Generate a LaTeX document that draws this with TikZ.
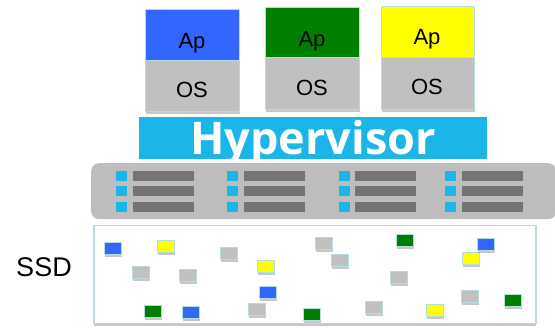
\documentclass[tikz,border=0pt]{standalone}
\usepackage{fontspec}
\setmainfont{Liberation Sans}
\newfontfamily\hvfont{Open Sans}
\usetikzlibrary{shadows}
\definecolor{apblue}{HTML}{3366FF}
\definecolor{apgreen}{HTML}{007F00}
\definecolor{apyellow}{HTML}{FFFF00}
\definecolor{osgray}{HTML}{C0C0C0}
\definecolor{hvcyan}{HTML}{1BB5E8}
\definecolor{edgeblue}{HTML}{B3DDE1}
\definecolor{rackgray}{HTML}{BDBDBD}
\definecolor{bargray}{HTML}{747474}
\tikzset{
  softshadow/.style={drop shadow={shadow xshift=0.5pt,shadow yshift=-2pt,opacity=0.22,fill=black}},
  apbox/.style={draw=edgeblue,line width=1.3pt,inner sep=0pt,anchor=north west,softshadow},
  lbl/.style={font=\fontsize{22}{22}\selectfont,inner sep=0pt,anchor=base},
  blk/.style={draw=edgeblue,line width=1pt,inner sep=0pt,minimum width=17pt,minimum height=12pt,softshadow},
  led/.style={fill=hvcyan,inner sep=0pt,minimum width=11pt,minimum height=10pt},
  bar/.style={fill=bargray,inner sep=0pt,minimum width=61pt,minimum height=10pt}
}
\begin{document}
\begin{tikzpicture}[x=1pt,y=-1pt]
\useasboundingbox (0,0) rectangle (555,328);
% application stacks
\node[apbox,fill=apblue,minimum width=94pt,minimum height=51pt] (ap1) at (145,9) {};
\node[apbox,fill=osgray,minimum width=94pt,minimum height=51pt] (os1) at (145,60) {};
\node[apbox,fill=apgreen,minimum width=94pt,minimum height=50pt] (ap2) at (265,7) {};
\node[apbox,fill=osgray,minimum width=94pt,minimum height=52pt] (os2) at (265,57) {};
\node[apbox,fill=apyellow,minimum width=93pt,minimum height=51pt] (ap3) at (381,6) {};
\node[apbox,fill=osgray,minimum width=93pt,minimum height=52pt] (os3) at (381,57) {};
\node[lbl] (ap1t) at (192,49) {Ap};
\node[lbl] (os1t) at (192,98) {OS};
\node[lbl] (ap2t) at (312,47) {Ap};
\node[lbl] (os2t) at (312,96) {OS};
\node[lbl] (ap3t) at (427,45) {Ap};
\node[lbl] (os3t) at (427,95) {OS};
% hypervisor
\node[fill=hvcyan,inner sep=0pt,minimum width=348pt,minimum height=42pt,anchor=north west] (hv) at (139,117) {};
\node[font=\hvfont\bfseries\fontsize{45}{45}\selectfont,text=white,inner sep=0pt,anchor=base] (hvt) at (313,155) {Hypervisor};
% server rack
\node[fill=rackgray,rounded corners=8pt,inner sep=0pt,minimum width=465pt,minimum height=56pt,anchor=north west] (rack) at (91,163) {};
\foreach \gx/\bx [count=\g] in {116/133,227/244,339/355,445/462}{
  \foreach \ry [count=\r] in {171,186,202}{
    \node[led,anchor=north west] (led\g\r) at (\gx,\ry) {};
    \node[bar,anchor=north west] (bar\g\r) at (\bx,\ry) {};
  }
}
% SSD
\node[font=\fontsize{27}{27}\selectfont,inner sep=0pt] (ssdt) at (44,267) {SSD};
\node[draw=edgeblue,line width=1.5pt,fill=white,inner sep=0pt,minimum width=442pt,minimum height=98pt,anchor=north west,softshadow] (ssd) at (93,225) {};
\foreach \cx/\cy/\cc [count=\i] in {
  113/249/apblue,166/247/apyellow,229/254/osgray,266/267/apyellow,141/273/osgray,
  188/276/osgray,268/293/apblue,153/312/apgreen,191/313/apblue,257/310/osgray,
  324/244/osgray,340/261/osgray,405/241/apgreen,471/259/apyellow,486/245/apblue,
  399/278/osgray,470/297/osgray,513/301/apgreen,312/315/apgreen,374/308/osgray,
  435/311/apyellow}{
  \node[blk,fill=\cc] (b\i) at (\cx,\cy) {};
}
\end{tikzpicture}
\end{document}
